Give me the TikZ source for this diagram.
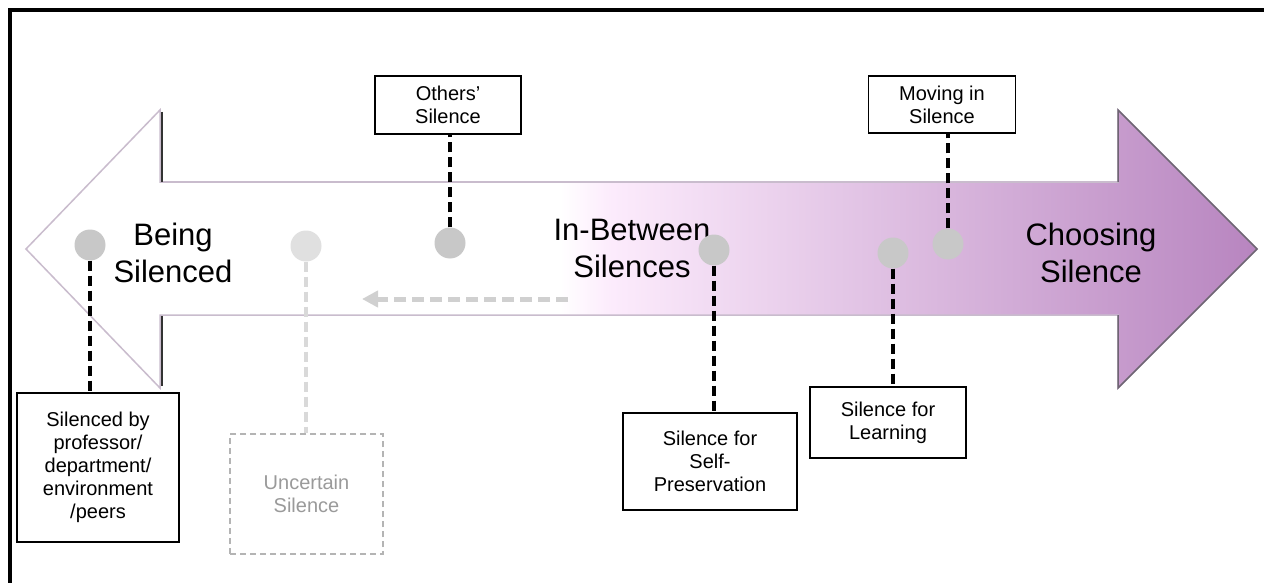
\documentclass[tikz,border=0pt]{standalone}
\usepackage{fontspec}
\setmainfont{Liberation Sans}
\usetikzlibrary{arrows.meta}
\definecolor{arrowpink}{HTML}{FCEBFC}
\definecolor{arrowpurple}{HTML}{B784BF}
\definecolor{dotgray}{HTML}{C8C8C8}
\definecolor{dotlight}{HTML}{E0E0E0}
\definecolor{edgelav}{HTML}{C9BCCD}
\definecolor{edgedark}{HTML}{6F6474}
\definecolor{ghost}{HTML}{B4B4B4}
\definecolor{ghosttext}{HTML}{9A9A9A}
\definecolor{ghostline}{HTML}{D9D9D9}
\definecolor{backarrow}{HTML}{D0D0D0}
\begin{document}
\begin{tikzpicture}[x=1pt,y=-1pt,
  bigtext/.style={align=center, font=\fontsize{31}{37}\selectfont, inner sep=0pt},
  smalltext/.style={align=center, font=\fontsize{20}{23}\selectfont},
  labelbox/.style={draw=black, line width=1.6pt, fill=white, smalltext, inner sep=0pt},
  ghostbox/.style={draw=ghost, line width=1.4pt, dash pattern=on 6pt off 4pt, fill=white, smalltext, text=ghosttext, inner sep=0pt},
  dot/.style={circle, fill=dotgray, minimum size=31pt, inner sep=0pt},
  ghostdot/.style={circle, fill=dotlight, minimum size=31pt, inner sep=0pt},
  tie/.style={black, line width=3.5pt, dash pattern=on 10pt off 5pt},
  ghosttie/.style={ghostline, line width=3.5pt, dash pattern=on 10pt off 5pt},
  backline/.style={backarrow, line width=5pt, dash pattern=on 12pt off 6pt, -{Triangle[length=16pt,width=16pt]}},
]
\useasboundingbox (0,0) rectangle (1264,583);
\fill[white] (0,0) rectangle (1264,583);
% frame
\draw[line width=3.5pt, line join=miter] (10,583) -- (10,10) -- (1264,10);
% double arrow body
\begin{scope}
  \clip (26,249) -- (160,110) -- (160,182) -- (1118,182) -- (1118,110) -- (1257,249) -- (1118,388) -- (1118,315) -- (160,315) -- (160,388) -- cycle;
  \shade[left color=white, right color=arrowpink] (560,100) rectangle (612,400);
  \shade[left color=arrowpink, right color=arrowpurple] (612,100) rectangle (1262,400);
\end{scope}
\draw[edgelav, line width=1.5pt, line join=miter] (26,249) -- (160,110) -- (160,182) -- (1118,182) -- (1118,110) -- (1257,249) -- (1118,388) -- (1118,315) -- (160,315) -- (160,388) -- cycle;
\draw[edgedark, line width=1.5pt, line join=miter] (1118,182) -- (1118,110) -- (1257,249) -- (1118,388) -- (1118,315);
\draw[black!80, line width=2pt] (161.5,112) -- (161.5,182);
\draw[black!80, line width=2pt] (161.5,316) -- (161.5,386);
% titles
\node[bigtext] (being) at (173,253) {Being\\Silenced};
\node[bigtext] (between) at (632,248) {In-Between\\Silences};
\node[bigtext] (choosing) at (1091,253) {Choosing\\Silence};
% back arrow
\coordinate (bastart) at (568,299);
\coordinate (baend) at (362,299);
\draw[backline] (bastart) -- (baend);
% dots
\node[dot] (d1) at (90,245) {};
\node[ghostdot] (d2) at (306,246) {};
\node[dot] (d3) at (450,243) {};
\node[dot] (d4) at (714,250) {};
\node[dot] (d5) at (893,253) {};
\node[dot] (d6) at (948,244) {};
% boxes
\node[labelbox, minimum width=162pt, minimum height=149pt] (b1) at (98,467.5) {Silenced by\\professor/\\department/\\environment\\/peers};
\node[ghostbox, minimum width=153pt, minimum height=120pt] (b2) at (306.5,494) {Uncertain\\Silence};
\node[labelbox, minimum width=146pt, minimum height=58pt] (b3) at (448,105) {Others’\\Silence};
\node[labelbox, minimum width=174pt, minimum height=97pt] (b4) at (710,461.5) {Silence for\\Self-\\Preservation};
\node[labelbox, minimum width=156pt, minimum height=71pt] (b5) at (888,422.5) {Silence for\\Learning};
\node[labelbox, minimum width=147pt, minimum height=57pt] (b6) at (942,104.5) {Moving in\\Silence};
% connectors
\draw[tie] (d1) -- (d1 |- b1.north);
\draw[ghosttie] (d2) -- (d2 |- b2.north);
\draw[tie] (d3) -- (d3 |- b3.south);
\draw[tie] (d4) -- (d4 |- b4.north);
\draw[tie] (d5) -- (d5 |- b5.north);
\draw[tie] (d6) -- (d6 |- b6.south);
\end{tikzpicture}
\end{document}
